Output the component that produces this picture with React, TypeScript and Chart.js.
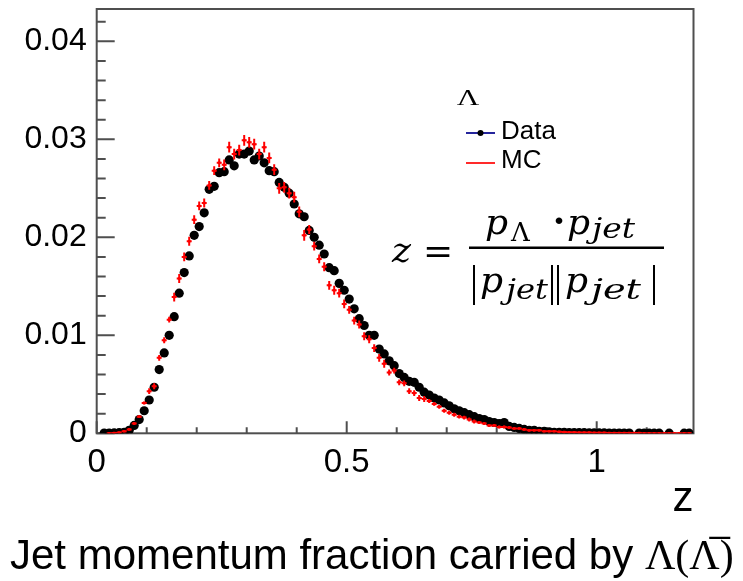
import React, { useEffect, useRef } from 'react';
import { Chart, registerables } from 'chart.js';
Chart.register(...registerables);

// ---------- data ----------
const zCenters = [
  0.005, 0.015, 0.025, 0.035, 0.045, 0.055, 0.065, 0.075, 0.085, 0.095,
  0.105, 0.115, 0.125, 0.135, 0.145, 0.155, 0.165, 0.175, 0.185, 0.195,
  0.205, 0.215, 0.225, 0.235, 0.245, 0.255, 0.265, 0.275, 0.285, 0.295,
  0.305, 0.315, 0.325, 0.335, 0.345, 0.355, 0.365, 0.375, 0.385, 0.395,
  0.405, 0.415, 0.425, 0.435, 0.445, 0.455, 0.465, 0.475, 0.485, 0.495,
  0.505, 0.515, 0.525, 0.535, 0.545, 0.555, 0.565, 0.575, 0.585, 0.595,
  0.605, 0.615, 0.625, 0.635, 0.645, 0.655, 0.665, 0.675, 0.685, 0.695,
  0.705, 0.715, 0.725, 0.735, 0.745, 0.755, 0.765, 0.775, 0.785, 0.795,
  0.805, 0.815, 0.825, 0.835, 0.845, 0.855, 0.865, 0.875, 0.885, 0.895,
  0.905, 0.915, 0.925, 0.935, 0.945, 0.955, 0.965, 0.975, 0.985, 0.995,
  1.005, 1.015, 1.025, 1.035, 1.045, 1.055, 1.065, 1.075, 1.085, 1.095,
  1.105, 1.115, 1.125, 1.135, 1.145, 1.155, 1.165, 1.175, 1.185,
];

const dataValues: (number | null)[] = [
  null, 0.00002, 0.00003, 0.00004, 0.00006, 0.0001, 0.0003, 0.0008, 0.0014, 0.0023,
  0.0034, 0.0047, 0.0065, 0.0082, 0.0100, 0.0119, 0.0143, 0.0164, 0.0181, 0.0202,
  0.0211, 0.0225, 0.0249, 0.0252, 0.0266, 0.0267, 0.0279, 0.0273, 0.0285, 0.0285,
  0.0288, 0.0279, 0.0283, 0.0276, 0.0268, 0.0267, 0.0256, 0.0251, 0.0245, 0.0234,
  0.0224, 0.0221, 0.0207, 0.0200, 0.0192, 0.0183, 0.0169, 0.0166, 0.0153, 0.0146,
  0.0137, 0.0127, 0.0117, 0.0110, 0.0100, 0.0100, 0.0086, 0.0081, 0.0074, 0.0069,
  0.0061, 0.0057, 0.0053, 0.0052, 0.0047, 0.0042, 0.0039, 0.0036, 0.0034, 0.0031,
  0.0028, 0.0025, 0.0023, 0.0021, 0.0019, 0.0017, 0.0015, 0.0014, 0.0012, 0.0011,
  0.0010, 0.0011, 0.0007, 0.0006, 0.0005, 0.0004, 0.0003, 0.0003, 0.0002, 0.0002,
  0.00015, 0.0001, 0.0001, 0.0001, 0.00008, 0.00008, 0.00006, 0.00006, 0.00005, 0.00005,
  0.00004, 0.00004, 0.00003, 0.00003, 0.00003, 0.00002, 0.00002, null, 0.00002, 0.00002,
  0.00001, 0.00001, 0.00001, null, 0.00001, null, null, 0.00001, 0.00001,
];

const mcValues: (number | null)[] = [
  null, null, 0.00001, 0.00003, 0.00008, 0.0002, 0.0004, 0.0010, 0.0017, 0.0031,
  0.0043, 0.0048, 0.0077, 0.0095, 0.0116, 0.0139, 0.0158, 0.0180, 0.0196, 0.0218,
  0.0232, 0.0235, 0.0253, 0.0268, 0.0276, 0.0274, 0.0292, 0.0285, 0.0289, 0.0299,
  0.0297, 0.0295, 0.0285, 0.0292, 0.0281, 0.0269, 0.0250, 0.0251, 0.0245, 0.0241,
  0.0226, 0.0202, 0.0208, 0.0191, 0.0178, 0.0170, 0.0151, 0.0146, 0.0143, 0.0132,
  0.0126, 0.0115, 0.0111, 0.0099, 0.0096, 0.0087, 0.0077, 0.0071, 0.0062, 0.0064,
  0.0052, 0.0051, 0.0043, 0.0041, 0.0036, 0.0035, 0.0033, 0.0030, 0.0027, 0.0023,
  0.0021, 0.0019, 0.0017, 0.0016, 0.0014, 0.0012, 0.0011, 0.0010, 0.0008, 0.0008,
  0.00065, 0.00065, 0.0006, 0.0005, 0.0005, 0.0004, 0.0003, 0.0003, 0.0003, 0.0002,
  0.0002, 0.0002, 0.00015, 0.00012, 0.0001, 0.0001, 0.00009, 0.00008, 0.00007, 0.00006,
  0.00005, 0.00005, 0.00004, 0.00004, 0.00003, 0.00003, 0.00002, 0.00002, 0.00002, 0.00001,
  0.00001, 0.00001, 0.00001, 0.00001, 0.00001, 0.00001, 0.00001, 0.00001, 0.00001,
];

const mcErrors: (number | null)[] = [
  null, null, 0.00005, 0.00005, 0.00005, 0.00005, 0.00005, 0.00015, 0.00015, 0.00015,
  0.0003, 0.0003, 0.0003, 0.0003, 0.0003, 0.00045, 0.00045, 0.00045, 0.00045, 0.00045,
  0.00045, 0.00045, 0.00045, 0.00045, 0.00045, 0.00055, 0.00055, 0.00055, 0.00055, 0.00055,
  0.00055, 0.00055, 0.00055, 0.00055, 0.00055, 0.00055, 0.00055, 0.00055, 0.00055, 0.00055,
  0.00055, 0.00055, 0.00045, 0.00045, 0.00045, 0.00045, 0.00045, 0.00045, 0.00045, 0.00045,
  0.0004, 0.0004, 0.0004, 0.0004, 0.0004, 0.0004, 0.0004, 0.0004, 0.0003, 0.0003,
  0.0003, 0.0003, 0.0003, 0.0003, 0.0003, 0.0003, 0.0002, 0.0002, 0.0002, 0.0002,
  0.0002, 0.0002, 0.0002, 0.0002, 0.0002, 0.0002, 0.00015, 0.00015, 0.00015, 0.00015,
  0.00015, 0.00015, 0.00015, 0.00015, 0.00015, 0.00015, 0.0001, 0.0001, 0.0001, 0.0001,
  0.0001, 0.0001, 0.0001, 0.0001, 0.0001, 0.0001, 0.0001, 0.0001, 0.0001, 0.0001,
  0.0001, 0.0001, 0.0001, 0.0001, 0.0001, 0.0001, 0.0001, 0.0001, 0.0001, 0.0001,
  0.0001, 0.0001, 0.0001, 0.0001, 0.0001, 0.0001, 0.0001, 0.0001, 0.0001,
];

const binHalfWidth = 0.005;

const xTickValues = [0, 0.1, 0.2, 0.3, 0.4, 0.5, 0.6, 0.7, 0.8, 0.9, 1.0, 1.1];
const xMajorValues = [0, 0.5, 1.0];
const xMajorLabels = ['0', '0.5', '1'];

const yTickValues = [
  0, 0.002, 0.004, 0.006, 0.008, 0.01, 0.012, 0.014, 0.016, 0.018, 0.02,
  0.022, 0.024, 0.026, 0.028, 0.03, 0.032, 0.034, 0.036, 0.038, 0.04, 0.042,
];
const yMajorValues = [0, 0.01, 0.02, 0.03, 0.04];
const yMajorLabels = ['0', '0.01', '0.02', '0.03', '0.04'];

const X_MIN = 0;
const X_MAX = 1.1936;
const Y_MIN = 0;
const Y_MAX = 0.0433;

const legendTitle = 'Λ';
const legendLabels = ['Data', 'MC'];
const xTitle = 'z';
const caption = 'Jet momentum fraction carried by ';
const captionSymbol = 'Λ(Λ̅)';

const SANS = '"Liberation Sans", Arial, Helvetica, sans-serif';
const SERIF = '"DejaVu Serif", "Liberation Serif", serif';
const AXIS_COLOR = '#4f4f4f';

const isMajor = (v: number, majors: number[]) => majors.findIndex((m) => Math.abs(m - v) < 1e-9);

// draws a text string stretched horizontally so that it spans the given width
const drawStretched = (ctx: CanvasRenderingContext2D, text: string, x: number, y: number, width: number) => {
  const natural = ctx.measureText(text).width;
  const sx = natural > 0 ? width / natural : 1;
  ctx.save();
  ctx.translate(x, y);
  ctx.scale(sx, 1);
  ctx.fillText(text, 0, 0);
  ctx.restore();
};

const frameAndTicks = {
  id: 'frameAndTicks',
  beforeDatasetsDraw(chart: any) {
    const { ctx, chartArea } = chart;
    const { left, right, top, bottom } = chartArea;
    const xs = chart.scales.x;
    const ys = chart.scales.y;
    ctx.save();
    ctx.strokeStyle = AXIS_COLOR;
    ctx.lineWidth = 2;
    ctx.strokeRect(left, top, right - left, bottom - top);
    ctx.beginPath();
    yTickValues.forEach((v) => {
      const py = ys.getPixelForValue(v);
      const len = isMajor(v, yMajorValues) >= 0 ? 18 : 9;
      ctx.moveTo(left, py);
      ctx.lineTo(left + len, py);
    });
    xTickValues.forEach((v) => {
      const px = xs.getPixelForValue(v);
      const len = isMajor(v, xMajorValues) >= 0 ? 12 : 6;
      ctx.moveTo(px, bottom);
      ctx.lineTo(px, bottom - len);
    });
    ctx.stroke();
    ctx.restore();
  },
};

const mcErrorBars = {
  id: 'mcErrorBars',
  afterDatasetsDraw(chart: any) {
    const { ctx, chartArea } = chart;
    const xs = chart.scales.x;
    const ys = chart.scales.y;
    ctx.save();
    ctx.beginPath();
    ctx.rect(chartArea.left, chartArea.top, chartArea.right - chartArea.left, chartArea.bottom - chartArea.top);
    ctx.clip();
    ctx.strokeStyle = '#ff0000';
    ctx.lineWidth = 2;
    ctx.beginPath();
    zCenters.forEach((z, i) => {
      const v = mcValues[i];
      const e = mcErrors[i];
      if (v === null || e === null) return;
      const px = xs.getPixelForValue(z);
      const py = ys.getPixelForValue(v);
      ctx.moveTo(px, ys.getPixelForValue(v + e));
      ctx.lineTo(px, ys.getPixelForValue(Math.max(v - e, 0)));
      ctx.moveTo(xs.getPixelForValue(z - binHalfWidth), py);
      ctx.lineTo(xs.getPixelForValue(z + binHalfWidth), py);
    });
    ctx.stroke();
    ctx.restore();
  },
};

const annotations = {
  id: 'annotations',
  afterDraw(chart: any) {
    const { ctx } = chart;
    ctx.save();
    ctx.fillStyle = '#000';

    // legend
    ctx.textAlign = 'center';
    ctx.textBaseline = 'middle';
    ctx.save();
    ctx.translate(468, 99);
    ctx.scale(1.3, 1);
    ctx.font = '24px "Liberation Serif", serif';
    ctx.fillText(legendTitle, 0, 0);
    ctx.restore();

    ctx.lineWidth = 2;
    ctx.strokeStyle = '#25259c';
    ctx.beginPath();
    ctx.moveTo(466, 133);
    ctx.lineTo(495, 133);
    ctx.stroke();
    ctx.beginPath();
    ctx.arc(480.5, 133, 3, 0, Math.PI * 2);
    ctx.fill();
    ctx.strokeStyle = '#ff2a2a';
    ctx.beginPath();
    ctx.moveTo(466, 163);
    ctx.lineTo(495, 163);
    ctx.stroke();
    ctx.textAlign = 'left';
    ctx.font = `26px ${SANS}`;
    ctx.fillText(legendLabels[0], 501, 132);
    ctx.fillText(legendLabels[1], 501, 161);

    // formula  z = p_Λ · p_jet / |p_jet||p_jet|
    ctx.textBaseline = 'alphabetic';
    const mainIt = `italic 36px ${SERIF}`;
    const subIt = `italic 28px ${SERIF}`;
    const subUp = `26px ${SERIF}`;
    ctx.font = mainIt;
    ctx.fillText('z', 392, 262);
    ctx.font = `36px ${SERIF}`;
    ctx.fillText('=', 423, 263);
    ctx.fillRect(469, 246.5, 195, 2.5);
    // numerator
    ctx.font = mainIt;
    ctx.fillText('p', 485, 234);
    ctx.font = subUp;
    ctx.fillText('Λ', 511, 241);
    ctx.font = `bold 36px ${SERIF}`;
    ctx.textAlign = 'center';
    ctx.fillText('·', 559, 233);
    ctx.textAlign = 'left';
    ctx.font = mainIt;
    ctx.fillText('p', 567, 234);
    ctx.font = subIt;
    drawStretched(ctx, 'jet', 592, 238, 43);
    // denominator
    ctx.font = mainIt;
    ctx.fillText('p', 480, 292);
    ctx.fillText('p', 565, 292);
    ctx.font = subIt;
    drawStretched(ctx, 'jet', 506, 299, 42);
    drawStretched(ctx, 'jet', 591, 299, 50);
    ctx.lineWidth = 2;
    ctx.strokeStyle = '#000';
    ctx.beginPath();
    [474, 552, 558, 654].forEach((bx) => {
      ctx.moveTo(bx, 265);
      ctx.lineTo(bx, 305);
    });
    ctx.stroke();

    // caption
    ctx.textAlign = 'left';
    ctx.textBaseline = 'alphabetic';
    ctx.font = `42px ${SANS}`;
    ctx.fillText(caption, 10, 569);
    const w = ctx.measureText(caption).width;
    ctx.font = `42px "Liberation Serif", serif`;
    ctx.fillText(captionSymbol, 10 + w, 569);
    ctx.restore();
  },
};

export default function App() {
  const ref = useRef<HTMLCanvasElement>(null);
  useEffect(() => {
    const canvas = ref.current;
    if (!canvas) return;
    const dataPts = zCenters
      .map((z, i) => ({ x: z, y: dataValues[i] }))
      .filter((p) => p.y !== null) as { x: number; y: number }[];
    const mcPts = zCenters
      .map((z, i) => ({ x: z, y: mcValues[i] }))
      .filter((p) => p.y !== null) as { x: number; y: number }[];

    const chart = new Chart(canvas, {
      type: 'scatter',
      data: {
        datasets: [
          {
            label: legendLabels[1],
            data: mcPts,
            pointStyle: 'rect',
            pointRadius: 1.8,
            pointHoverRadius: 1.8,
            backgroundColor: '#ff0000',
            borderWidth: 0,
            order: 0,
          },
          {
            label: legendLabels[0],
            data: dataPts,
            pointStyle: 'circle',
            pointRadius: 4.6,
            pointHoverRadius: 4.6,
            backgroundColor: '#000000',
            borderWidth: 0,
            order: 1,
          },
        ],
      },
      options: {
        responsive: false,
        animation: false,
        devicePixelRatio: 1,
        events: [],
        layout: { padding: { top: 9, right: 49.5, left: 0, bottom: 0 } },
        plugins: {
          legend: { display: false },
          tooltip: { enabled: false },
          title: { display: false },
        },
        scales: {
          x: {
            type: 'linear',
            min: X_MIN,
            max: X_MAX,
            grid: { display: false, drawTicks: false },
            border: { display: false },
            afterBuildTicks: (s: any) => {
              s.ticks = xTickValues.map((v) => ({ value: v }));
            },
            afterFit: (s: any) => {
              s.height = 581 - 433.3;
              s.paddingLeft = 0;
              s.paddingRight = 0;
            },
            ticks: {
              autoSkip: false,
              maxRotation: 0,
              minRotation: 0,
              padding: 10,
              color: '#000',
              font: { family: SANS, size: 33 },
              callback: (v: any) => {
                const k = isMajor(Number(v), xMajorValues);
                return k >= 0 ? xMajorLabels[k] : '';
              },
            },
            title: {
              display: true,
              text: xTitle,
              align: 'end',
              color: '#000',
              font: { family: SANS, size: 42 },
              padding: { top: 0, bottom: 56 },
            },
          },
          y: {
            type: 'linear',
            min: Y_MIN,
            max: Y_MAX,
            grid: { display: false, drawTicks: false },
            border: { display: false },
            afterBuildTicks: (s: any) => {
              s.ticks = yTickValues.map((v) => ({ value: v }));
            },
            afterFit: (s: any) => {
              s.width = 96.7;
              s.paddingTop = 0;
              s.paddingBottom = 0;
            },
            ticks: {
              autoSkip: false,
              padding: 10,
              color: '#000',
              font: { family: SANS, size: 32 },
              callback: (v: any) => {
                const k = isMajor(Number(v), yMajorValues);
                return k >= 0 ? yMajorLabels[k] : '';
              },
            },
          },
        },
      },
      plugins: [frameAndTicks, mcErrorBars, annotations],
    } as any);
    return () => chart.destroy();
  }, []);

  return (
    <div style={{ position: 'fixed', left: 0, top: 0, width: 743, height: 581, background: '#fff' }}>
      <canvas ref={ref} width={743} height={581} style={{ display: 'block', width: 743, height: 581 }} />
    </div>
  );
}
